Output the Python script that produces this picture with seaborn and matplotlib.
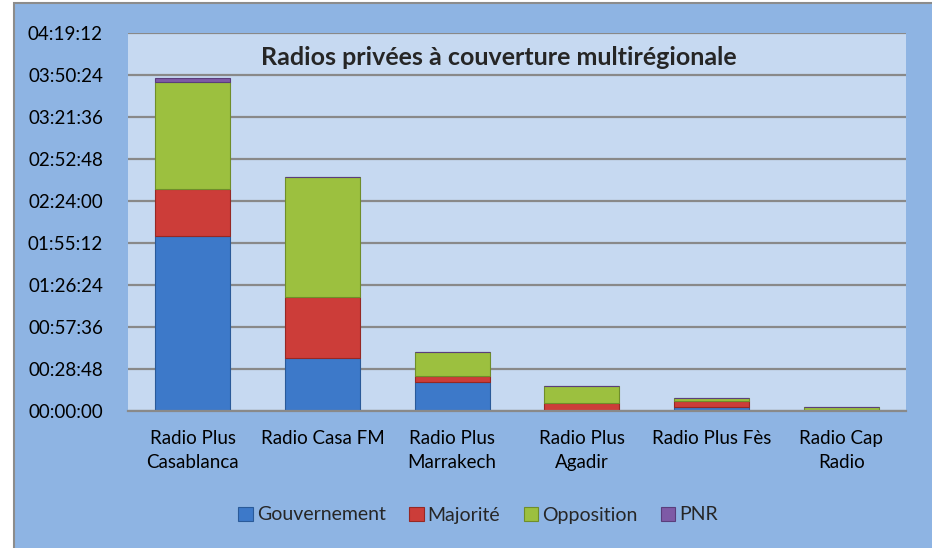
import pandas as pd
import numpy as np
from matplotlib import pyplot as plt
from matplotlib.patches import Rectangle
from matplotlib.ticker import FuncFormatter, MultipleLocator
import seaborn as sns

radios = ["Radio Plus\nCasablanca", "Radio Casa FM", "Radio Plus\nMarrakech",
          "Radio Plus\nAgadir", "Radio Plus Fès", "Radio Cap\nRadio"]
series = ["Gouvernement", "Majorité", "Opposition", "PNR"]

# durations (hh:mm:ss)
gouvernement = ["02:00:00", "00:36:07", "00:20:06", "00:00:20", "00:02:58", "00:00:00"]
majorite = ["00:32:30", "00:41:50", "00:03:54", "00:04:56", "00:04:07", "00:00:40"]
opposition = ["01:13:05", "01:22:43", "00:16:14", "00:11:52", "00:01:36", "00:01:52"]
pnr = ["00:03:00", "00:00:00", "00:00:00", "00:00:00", "00:00:00", "00:00:00"]

colors = ["#3D79C9", "#CC3D39", "#9CC03F", "#7E5AA6"]
edges = ["#2A5A99", "#962824", "#6F8E2A", "#5A3E7C"]

def to_sec(t):
    h, m, s = [int(v) for v in t.split(":")]
    return h * 3600 + m * 60 + s

df = pd.DataFrame({"radio": radios})
for name, vals in zip(series, [gouvernement, majorite, opposition, pnr]):
    df[name] = [to_sec(v) for v in vals]

def hms(x, pos):
    x = int(round(x))
    return f"{x // 3600:02d}:{(x % 3600) // 60:02d}:{x % 60:02d}"

sns.set_style("white")
plt.rcParams["font.family"] = ["Lato", "DejaVu Sans"]

bg = "#8EB4E3"
fig = plt.figure(figsize=(9.32, 5.48), dpi=100)
fig.patch.set_facecolor("white")
fig.patches.append(Rectangle((14 / 932, -0.1), 2, 1 - 3 / 548 + 0.1,
                             transform=fig.transFigure, fc=bg, ec="#8c8c8c",
                             lw=1.5, zorder=-10))

ax = fig.add_axes([128 / 932, 1 - 411 / 548, 778 / 932, 378 / 548])
ax.set_facecolor("#C6D9F1")

bottom = np.zeros(len(df))
for name, c, ec in zip(series, colors, edges):
    sns.barplot(data=df, x="radio", y=name, bottom=bottom, color=c, width=0.58,
                edgecolor=ec, linewidth=0.8, label=name, ax=ax, saturation=1)
    bottom += df[name].values

ax.set_ylim(0, 15552)
ax.yaxis.set_major_locator(MultipleLocator(1728))
ax.yaxis.set_major_formatter(FuncFormatter(hms))
ax.grid(axis="y", color="#898989", lw=1.6)
ax.set_axisbelow(True)
for s in ["left", "right", "top"]:
    ax.spines[s].set_visible(False)
ax.spines["bottom"].set_color("#898989")
ax.spines["bottom"].set_linewidth(1.6)
ax.tick_params(axis="both", length=0, labelsize=13.5, colors="black")
ax.tick_params(axis="y", pad=18)
ax.tick_params(axis="x", pad=14)
for lbl in ax.get_xticklabels():
    lbl.set_linespacing(1.45)
ax.set_xlabel("")
ax.set_ylabel("")

ax.text(0.476, 0.935, "Radios privées à couverture multirégionale",
        transform=ax.transAxes, ha="center", va="center",
        fontsize=18, fontweight="bold")

if ax.legend_:
    ax.legend_.remove()
handles, labels = ax.get_legend_handles_labels()
fig.legend(handles, labels, loc="center", bbox_to_anchor=(0.513, 1 - 515 / 548),
           ncol=4, frameon=False, fontsize=14, handlelength=0.75,
           handleheight=0.75, handletextpad=0.2, columnspacing=1.2)

fig.savefig("out.png", dpi=100, facecolor=fig.get_facecolor())
